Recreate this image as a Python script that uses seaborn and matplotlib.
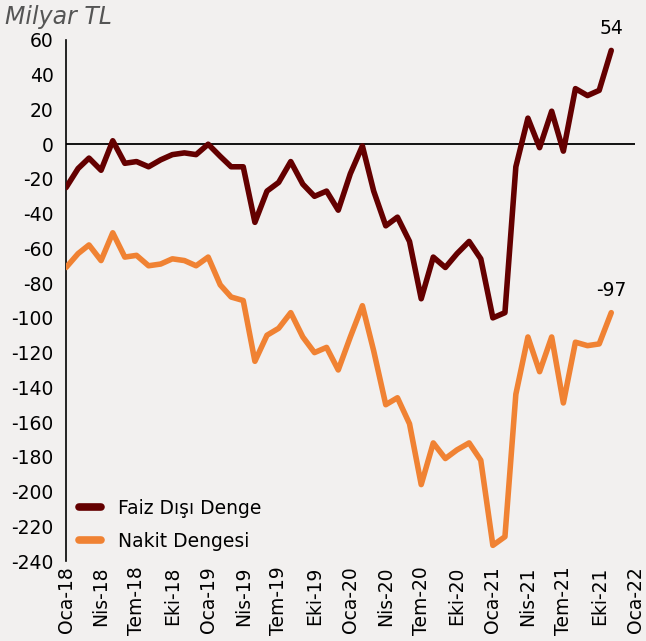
import matplotlib
matplotlib.use("Agg")
import matplotlib.pyplot as plt
import seaborn as sns
import pandas as pd
import numpy as np

# ---- data (monthly, Oca-18 .. Kas-21) ----
start_month = "2018-01-01"
n_months = 47
faiz_disi_denge = [-25, -14, -8, -15, 2, -11, -10, -13, -9, -6, -5, -6, 0,
                   -7, -13, -13, -45, -27, -22, -10, -23, -30, -27, -38,
                   -17, -1, -27, -47, -42, -56, -89, -65, -71, -63, -56,
                   -66, -100, -97, -13, 15, -2, 19, -4, 32, 28, 31, 54]
nakit_dengesi = [-71, -63, -58, -67, -51, -65, -64, -70, -69, -66, -67, -70,
                 -65, -81, -88, -90, -125, -110, -106, -97, -111, -120, -117,
                 -130, -111, -93, -119, -150, -146, -161, -196, -172, -181,
                 -176, -172, -182, -231, -226, -144, -111, -131, -111, -149,
                 -114, -116, -115, -97]
series_names = ["Faiz Dışı Denge", "Nakit Dengesi"]
series_colors = ["#640000", "#F08233"]
tick_dates = ["2018-01-01", "2018-04-01", "2018-07-01", "2018-10-01",
              "2019-01-01", "2019-04-01", "2019-07-01", "2019-10-01",
              "2020-01-01", "2020-04-01", "2020-07-01", "2020-10-01",
              "2021-01-01", "2021-04-01", "2021-07-01", "2021-10-01",
              "2022-01-01"]
tick_labels = ["Oca-18", "Nis-18", "Tem-18", "Eki-18", "Oca-19", "Nis-19",
               "Tem-19", "Eki-19", "Oca-20", "Nis-20", "Tem-20", "Eki-20",
               "Oca-21", "Nis-21", "Tem-21", "Eki-21", "Oca-22"]
y_ticks = list(range(-240, 61, 20))
unit_label = "Milyar TL"

dates = pd.date_range(start_month, periods=n_months, freq="MS")
df = pd.DataFrame({
    "Tarih": np.concatenate([dates, dates]),
    "Değer": faiz_disi_denge + nakit_dengesi,
    "Seri": [series_names[0]] * n_months + [series_names[1]] * n_months,
})

sns.set_style("white")
plt.rcParams["font.family"] = ["DejaVu Sans"]
plt.rcParams["text.color"] = "black"
plt.rcParams["xtick.color"] = "black"
plt.rcParams["ytick.color"] = "black"
plt.rcParams["xtick.labelcolor"] = "black"
plt.rcParams["ytick.labelcolor"] = "black"
bg = "#F2F0EF"
fs = 13.5

fig = plt.figure(figsize=(6.46, 6.41), dpi=100, facecolor=bg)
ax = fig.add_axes([0.1022, 0.1248, 0.8808, 0.8128])
ax.set_facecolor(bg)

ax.axhline(0, color="black", lw=1.3, zorder=1)
sns.lineplot(data=df, x="Tarih", y="Değer", hue="Seri",
             palette=dict(zip(series_names, series_colors)),
             linewidth=4.0, ax=ax, zorder=3)

ax.set_xlim(pd.Timestamp(tick_dates[0]), pd.Timestamp(tick_dates[-1]))
ax.set_ylim(-240, 60)
ax.set_yticks(y_ticks)
ax.set_yticklabels([str(v) for v in y_ticks], fontsize=fs)
ax.set_xticks([pd.Timestamp(d) for d in tick_dates])
ax.set_xticklabels(tick_labels, rotation=90, fontsize=fs)
ax.tick_params(axis="y", direction="out", length=6, width=1.2, color="black", pad=3)
ax.tick_params(axis="x", length=0, pad=4)
ax.set_xlabel("")
ax.set_ylabel("")

for s in ["top", "right", "bottom"]:
    ax.spines[s].set_visible(False)
ax.spines["left"].set_color("black")
ax.spines["left"].set_linewidth(1.2)

leg = ax.legend(loc="lower left", bbox_to_anchor=(0.006, 0.002), frameon=False,
                fontsize=fs, handlelength=1.2, handletextpad=0.9,
                labelspacing=0.75, borderaxespad=0.1)
for h in leg.get_lines():
    h.set_linewidth(5.5)
    h.set_solid_capstyle("round")

ax.annotate(str(faiz_disi_denge[-1]), (dates[-1], faiz_disi_denge[-1]),
            xytext=(0, 9), textcoords="offset points", ha="center",
            va="bottom", fontsize=fs)
ax.annotate(str(nakit_dengesi[-1]), (dates[-1], nakit_dengesi[-1]),
            xytext=(0, 9), textcoords="offset points", ha="center",
            va="bottom", fontsize=fs)

fig.text(0.008, 0.992, unit_label, fontsize=17, style="italic",
         color="#555555", ha="left", va="top")

fig.savefig("out.png", dpi=100, facecolor=bg)
